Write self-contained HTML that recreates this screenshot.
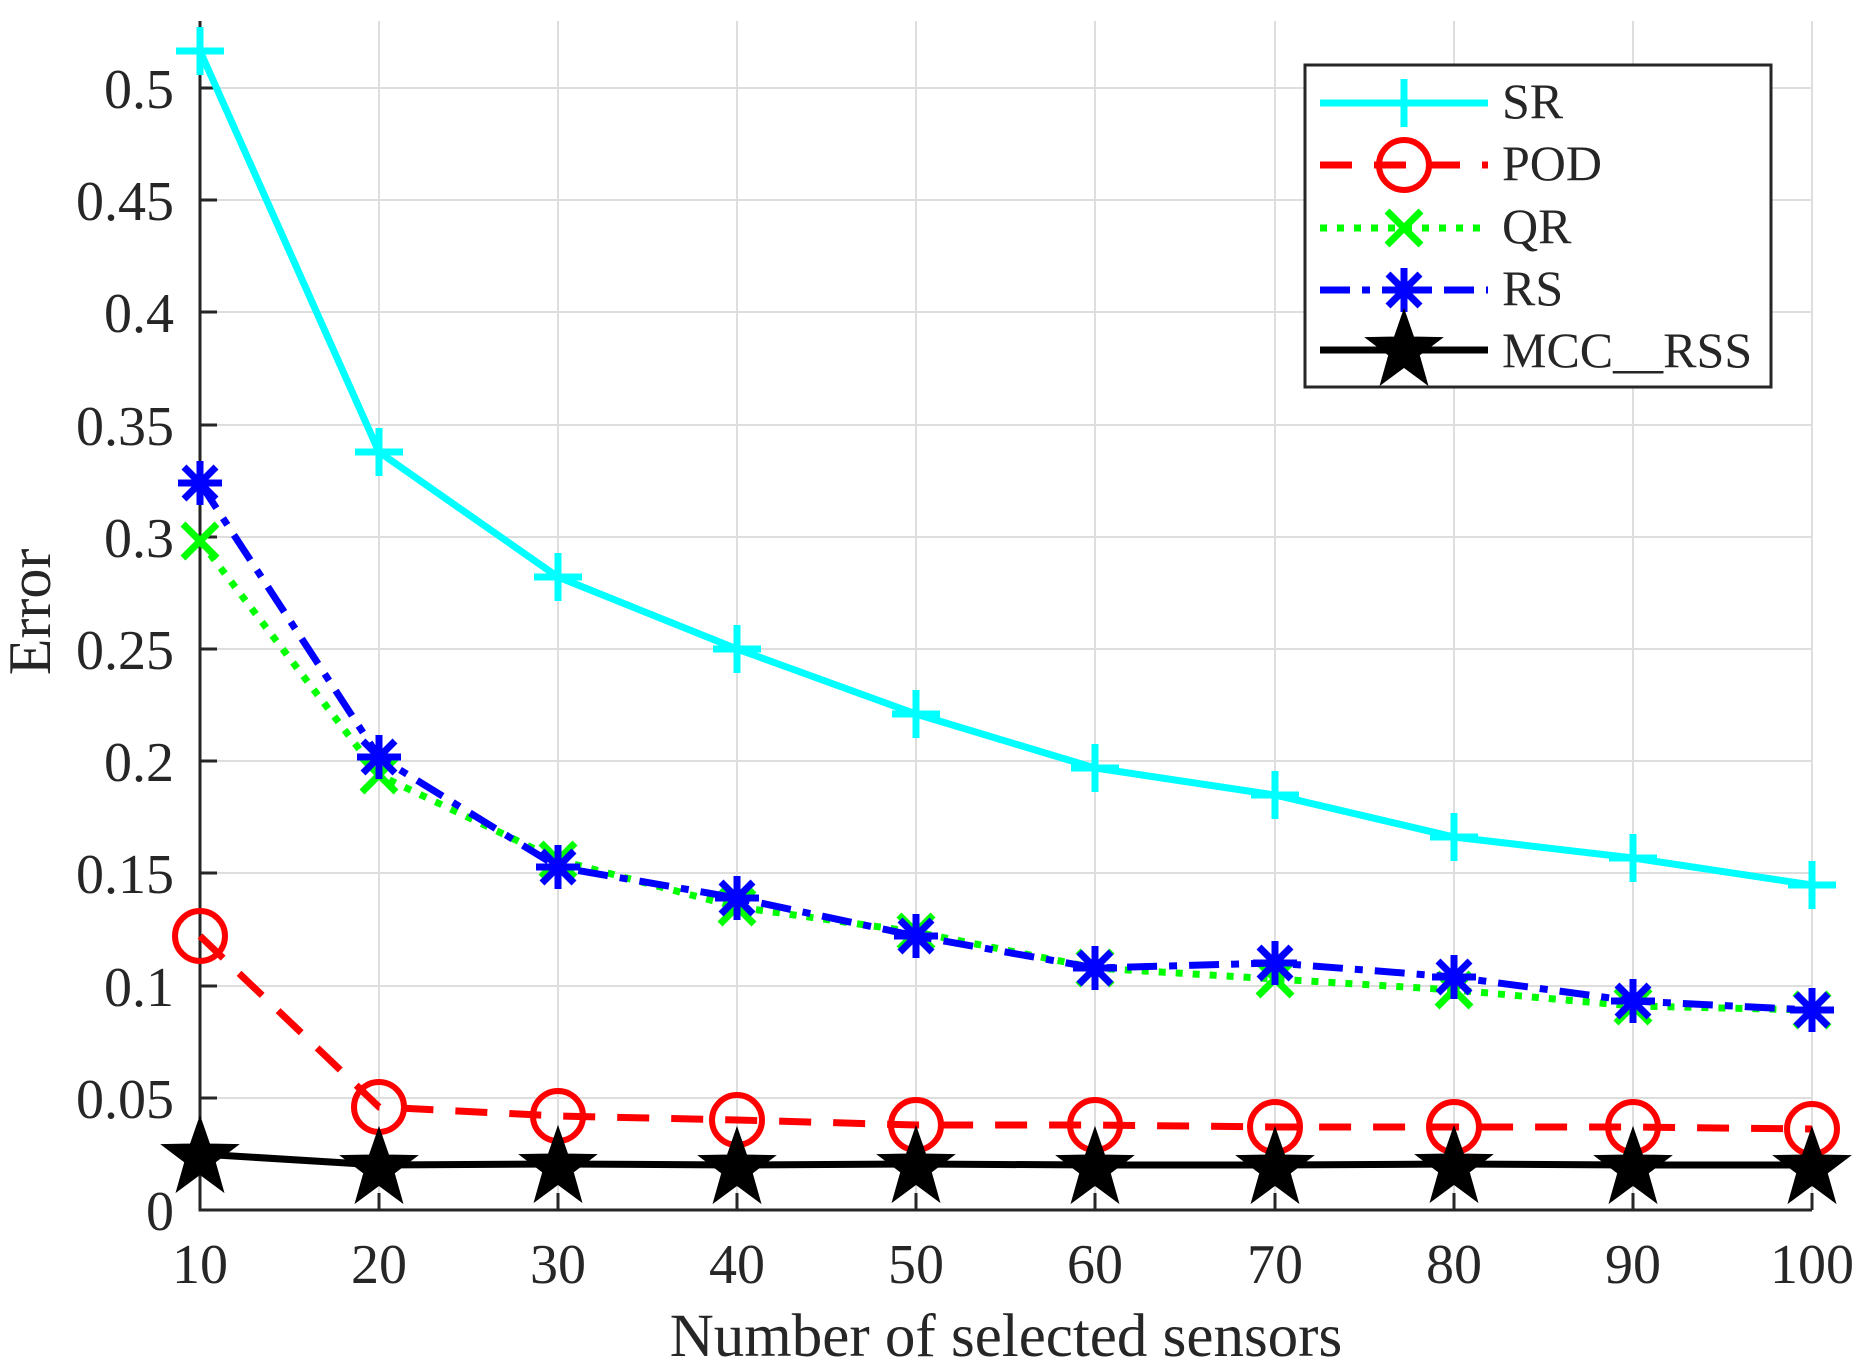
<!DOCTYPE html>
<html><head><meta charset="utf-8"><style>
html,body{margin:0;padding:0;background:#fff;}
svg{display:block;}
text{font-family:"Liberation Serif",serif;fill:#262626;}
</style></head><body>
<svg width="1864" height="1368" viewBox="0 0 1864 1368" xmlns="http://www.w3.org/2000/svg">
<defs>
<g id="plus"><path d="M-24 0H24M0 -24V24" stroke="#00ffff" stroke-width="7" fill="none"/></g>
<g id="circ"><circle r="25" stroke="#ff0000" stroke-width="6" fill="none"/></g>
<g id="xm"><path d="M-17 -17L17 17M-17 17L17 -17" stroke="#00ff00" stroke-width="7" fill="none"/></g>
<g id="ast"><path d="M-22 0H22M0 -22V22M-16 -16L16 16M-16 16L16 -16" stroke="#0000ff" stroke-width="7" fill="none"/></g>
<g id="star"><polygon points="0,-36 8.5,-11.5 34,-11 13.5,4.5 21,31 0,15.5 -21,31 -13.5,4.5 -34,-11 -8.5,-11.5" fill="#000" stroke="#000" stroke-width="4" stroke-linejoin="miter"/></g>
</defs>
<g stroke="#dedede" stroke-width="2">
<path d="M379 21V1210M558 21V1210M737 21V1210M916 21V1210M1095 21V1210M1275 21V1210M1454 21V1210M1633 21V1210M1812 21V1210"/>
<path d="M200 1098H1812M200 986H1812M200 873H1812M200 761H1812M200 649H1812M200 537H1812M200 425H1812M200 312H1812M200 200H1812M200 88H1812"/>
</g>
<g stroke="#262626" stroke-width="3" fill="none">
<path d="M200 21V1210H1812"/>
<path d="M200 1098h17M200 986h17M200 873h17M200 761h17M200 649h17M200 537h17M200 425h17M200 312h17M200 200h17M200 88h17"/>
<path d="M379 1210v-17M558 1210v-17M737 1210v-17M916 1210v-17M1095 1210v-17M1275 1210v-17M1454 1210v-17M1633 1210v-17M1812 1210v-17"/>
</g>
<g font-size="56" text-anchor="end">
<text x="174" y="1230">0</text>
<text x="174" y="1118">0.05</text>
<text x="174" y="1006">0.1</text>
<text x="174" y="893">0.15</text>
<text x="174" y="781">0.2</text>
<text x="174" y="669">0.25</text>
<text x="174" y="557">0.3</text>
<text x="174" y="445">0.35</text>
<text x="174" y="332">0.4</text>
<text x="174" y="220">0.45</text>
<text x="174" y="108">0.5</text>
</g>
<g font-size="56" text-anchor="middle">
<text x="200" y="1283">10</text>
<text x="379" y="1283">20</text>
<text x="558" y="1283">30</text>
<text x="737" y="1283">40</text>
<text x="916" y="1283">50</text>
<text x="1095" y="1283">60</text>
<text x="1275" y="1283">70</text>
<text x="1454" y="1283">80</text>
<text x="1633" y="1283">90</text>
<text x="1812" y="1283">100</text>
<text x="1006" y="1356" font-size="61">Number of selected sensors</text>
<text transform="translate(50 612) rotate(-90)" font-size="60">Error</text>
</g>
<polyline fill="none" stroke="#00ffff" stroke-width="7" points="200,51 379,452 558,577 737,649 916,714 1095,768 1275,795 1454,837 1633,858 1812,885"/>
<g><use href="#plus" x="200" y="51"/><use href="#plus" x="379" y="452"/><use href="#plus" x="558" y="577"/><use href="#plus" x="737" y="649"/><use href="#plus" x="916" y="714"/><use href="#plus" x="1095" y="768"/><use href="#plus" x="1275" y="795"/><use href="#plus" x="1454" y="837"/><use href="#plus" x="1633" y="858"/><use href="#plus" x="1812" y="885"/></g>
<polyline fill="none" stroke="#00ff00" stroke-width="7" stroke-dasharray="7 10" points="200,541 379,775 558,860 737,907 916,932 1095,968 1275,979 1454,990 1633,1006 1812,1010"/>
<g><use href="#xm" x="200" y="541"/><use href="#xm" x="379" y="775"/><use href="#xm" x="558" y="860"/><use href="#xm" x="737" y="907"/><use href="#xm" x="916" y="932"/><use href="#xm" x="1095" y="968"/><use href="#xm" x="1275" y="979"/><use href="#xm" x="1454" y="990"/><use href="#xm" x="1633" y="1006"/><use href="#xm" x="1812" y="1010"/></g>
<polyline fill="none" stroke="#0000ff" stroke-width="7" stroke-dasharray="30 12 8 12" points="200,483 379,757 558,867 737,898 916,936 1095,968 1275,963 1454,977 1633,1001 1812,1010"/>
<g><use href="#ast" x="200" y="483"/><use href="#ast" x="379" y="757"/><use href="#ast" x="558" y="867"/><use href="#ast" x="737" y="898"/><use href="#ast" x="916" y="936"/><use href="#ast" x="1095" y="968"/><use href="#ast" x="1275" y="963"/><use href="#ast" x="1454" y="977"/><use href="#ast" x="1633" y="1001"/><use href="#ast" x="1812" y="1010"/></g>
<polyline fill="none" stroke="#ff0000" stroke-width="7" stroke-dasharray="32 22" points="200,936 379,1107 558,1116 737,1120 916,1125 1095,1125 1275,1127 1454,1127 1633,1127 1812,1129"/>
<g><use href="#circ" x="200" y="936"/><use href="#circ" x="379" y="1107"/><use href="#circ" x="558" y="1116"/><use href="#circ" x="737" y="1120"/><use href="#circ" x="916" y="1125"/><use href="#circ" x="1095" y="1125"/><use href="#circ" x="1275" y="1127"/><use href="#circ" x="1454" y="1127"/><use href="#circ" x="1633" y="1127"/><use href="#circ" x="1812" y="1129"/></g>
<polyline fill="none" stroke="#000" stroke-width="7" points="200,1154 379,1165 558,1164 737,1165 916,1164 1095,1165 1275,1165 1454,1164 1633,1165 1812,1165"/>
<g><use href="#star" x="200" y="1157"/><use href="#star" x="379" y="1168"/><use href="#star" x="558" y="1167"/><use href="#star" x="737" y="1168"/><use href="#star" x="916" y="1167"/><use href="#star" x="1095" y="1168"/><use href="#star" x="1275" y="1168"/><use href="#star" x="1454" y="1167"/><use href="#star" x="1633" y="1168"/><use href="#star" x="1812" y="1168"/></g>
<rect x="1305" y="65" width="466" height="322" fill="#fff" stroke="#262626" stroke-width="3"/>
<path d="M1320 103H1488" stroke="#00ffff" stroke-width="7"/><use href="#plus" x="1404" y="103"/>
<path d="M1320 165H1488" stroke="#ff0000" stroke-width="7" stroke-dasharray="32 22"/><use href="#circ" x="1404" y="165"/>
<path d="M1320 228H1488" stroke="#00ff00" stroke-width="7" stroke-dasharray="7 10"/><use href="#xm" x="1404" y="228"/>
<path d="M1320 290H1488" stroke="#0000ff" stroke-width="7" stroke-dasharray="30 12 8 12"/><use href="#ast" x="1404" y="290"/>
<path d="M1320 350H1488" stroke="#000" stroke-width="7"/><use href="#star" x="1404" y="350"/>
<g font-size="50" style="fill:#000">
<text x="1502" y="118">SR</text>
<text x="1502" y="180">POD</text>
<text x="1502" y="243">QR</text>
<text x="1502" y="305">RS</text>
<text x="1502" y="367">MCC__RSS</text>
</g>
</svg>
</body></html>
